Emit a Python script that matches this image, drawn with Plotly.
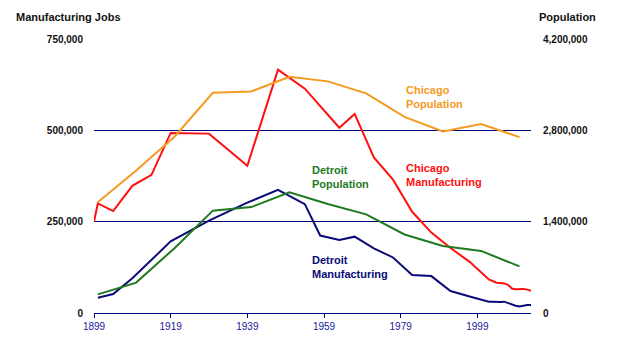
import plotly.graph_objects as go

# ---- data ----
census_years = [1900, 1910, 1920, 1930, 1940, 1950, 1960, 1970, 1980, 1990, 2000, 2010]
chicago_pop = [1698575, 2185283, 2701705, 3376438, 3396808, 3620962,
               3550404, 3366957, 3005072, 2783726, 2896016, 2695598]
detroit_pop = [285704, 465766, 993678, 1568662, 1623452, 1849568,
               1670144, 1511482, 1203339, 1027974, 951270, 713777]

chi_mfg_years = [1899, 1900, 1904, 1909, 1914, 1919, 1929, 1939, 1947, 1954, 1963, 1967,
                 1972, 1977, 1982, 1987, 1992, 1997, 2002, 2003, 2004, 2005, 2006, 2007,
                 2008, 2009, 2010, 2011, 2012, 2013]
chi_mfg = [250000, 300000, 279000, 348000, 378000, 493000, 491000, 403000, 666000, 614000,
           507000, 545000, 426000, 365000, 277000, 220000, 178000, 140000, 92000, 87000,
           83000, 82000, 81000, 77000, 67000, 65000, 66000, 66000, 64000, 61000]

det_mfg_years = [1900, 1904, 1909, 1919, 1929, 1939, 1947, 1954, 1958, 1963, 1967, 1972,
                 1977, 1982, 1987, 1992, 1997, 2002, 2003, 2004, 2005, 2006, 2007, 2008,
                 2009, 2010, 2011, 2012, 2013]
det_mfg = [42000, 52000, 95000, 196000, 253000, 302000, 337000, 298000, 212000, 200000,
           209000, 177000, 152000, 104000, 101000, 60000, 45000, 31000, 31000, 30000,
           30000, 31000, 27000, 25000, 20000, 18000, 21000, 22000, 22000]

x_ticks = [1899, 1919, 1939, 1959, 1979, 1999]
left_ticks = [0, 250000, 500000, 750000]
right_ticks = [0, 1400000, 2800000, 4200000]

ORANGE = "#F39A1F"
RED = "#FF1010"
GREEN = "#1E7A1E"
NAVY = "#0A0A78"
GRID = "#000080"
FONT = "Liberation Sans, Arial, sans-serif"

fig = go.Figure()
fig.add_trace(go.Scatter(x=census_years, y=chicago_pop, yaxis="y2", mode="lines",
                         line=dict(color=ORANGE, width=2)))
fig.add_trace(go.Scatter(x=census_years, y=detroit_pop, yaxis="y2", mode="lines",
                         line=dict(color=GREEN, width=2)))
fig.add_trace(go.Scatter(x=chi_mfg_years, y=chi_mfg, mode="lines",
                         line=dict(color=RED, width=2)))
fig.add_trace(go.Scatter(x=det_mfg_years, y=det_mfg, mode="lines",
                         line=dict(color=NAVY, width=2)))

def fmt(v):
    return "<b>" + f"{v:,}" + "</b>"

fig.update_layout(
    width=624, height=342,
    margin=dict(l=94, r=93, t=39, b=29, autoexpand=False),
    paper_bgcolor="white", plot_bgcolor="white",
    showlegend=False,
    font=dict(family=FONT, size=10, color="#111111"),
    xaxis=dict(range=[1899, 2013], tickvals=x_ticks, ticktext=[str(v) for v in x_ticks],
               ticks="outside", ticklen=4, tickcolor=GRID, tickwidth=1.3,
               showline=True, linecolor=GRID, linewidth=1.3, showgrid=False,
               zeroline=False, automargin=False, tickfont=dict(size=10, color="#1a1a99")),
    yaxis=dict(range=[0, 750000], tickvals=left_ticks, ticktext=[fmt(v) for v in left_ticks],
               showgrid=True, gridcolor=GRID, gridwidth=1, zeroline=False, showline=False,
               automargin=False, ticks="", ticklabelstandoff=10,
               tickfont=dict(size=10, color="#111111")),
    yaxis2=dict(range=[0, 4200000], tickvals=right_ticks, ticktext=[fmt(v) for v in right_ticks],
                overlaying="y", side="right", showgrid=False, zeroline=False, showline=False,
                automargin=False, ticks="", ticklabelstandoff=11,
                tickfont=dict(size=10, color="#111111")),
)

annots = [
    dict(text="<b>Manufacturing Jobs</b>", x=-0.183, y=1.080, color="#111111"),
    dict(text="<b>Population</b>", x=1.0144, y=1.080, color="#111111"),
    dict(text="<b>Chicago<br>Population</b>", x=0.7094, y=0.788, color=ORANGE),
    dict(text="<b>Chicago<br>Manufacturing</b>", x=0.7094, y=0.504, color=RED),
    dict(text="<b>Detroit<br>Population</b>", x=0.494, y=0.496, color=GREEN),
    dict(text="<b>Detroit<br>Manufacturing</b>", x=0.494, y=0.168, color=NAVY),
]
for a in annots:
    fig.add_annotation(text=a["text"], x=a["x"], y=a["y"], xref="paper", yref="paper",
                       xanchor="left", yanchor="middle", align="left", showarrow=False,
                       font=dict(family=FONT, size=11, color=a["color"]))

fig.write_html("out.html")
